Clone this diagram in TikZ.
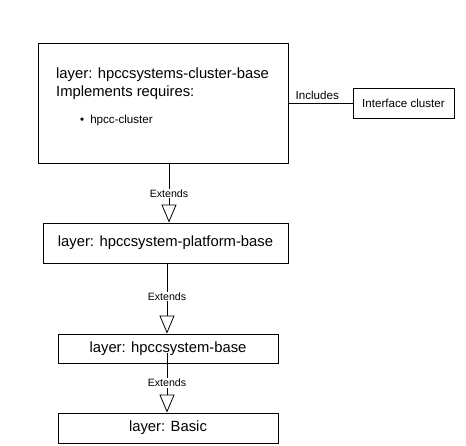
\documentclass[tikz,border=0pt]{standalone}
\usepackage{fontspec}
\setmainfont{Liberation Sans}
\usetikzlibrary{arrows.meta}
\begin{document}
\begin{tikzpicture}[x=1pt,y=-1pt,
  box/.style={draw=black,line width=0.8pt,fill=white,inner sep=0pt},
  big/.style={font=\fontsize{14.8}{17}\selectfont},
  mid/.style={font=\fontsize{11.6}{14}\selectfont},
  small/.style={font=\fontsize{10.6}{12}\selectfont},
  conn/.style={draw=black,line width=0.8pt},
  ext/.style={conn,-{Triangle[open,length=18pt,width=15pt,line width=0.8pt]}},
  lbl/.style={small,fill=white,inner sep=1pt}]
\useasboundingbox (0,0) rectangle (466,446);
\node[box,minimum width=250pt,minimum height=120pt] (b1) at (163,103) {};
\node[big,anchor=west,inner sep=0pt] (t1) at (56,75) {layer: hpccsystems-cluster-base};
\node[big,anchor=west,inner sep=0pt] (t2) at (56,93) {Implements requires:};
\node[mid,anchor=west,inner sep=0pt] (t3) at (80,121) {\textbullet\hspace{6pt}hpcc-cluster};
\node[box,mid,minimum width=101pt,minimum height=30pt] (ic) at (403.5,103) {Interface cluster};
\node[box,big,minimum width=245pt,minimum height=40pt] (b2) at (165.5,243) {layer: hpccsystem-platform-base};
\node[box,big,minimum width=220pt,minimum height=29pt] (b3) at (168,348.5) {layer: hpccsystem-base};
\node[box,big,minimum width=220pt,minimum height=30pt] (b4) at (168,428) {layer: Basic};
\draw[conn] (b1.east) -- node[pos=0.45,above,mid,inner sep=3pt] {Includes} (ic.west);
\draw[ext] ([xshift=6pt]b1.south) coordinate (s1) -- node[pos=0.51,lbl] {Extends} (s1 |- b2.north);
\draw[ext] ([xshift=1.5pt]b2.south) coordinate (s2) -- node[pos=0.47,lbl] {Extends} (s2 |- b3.north);
\draw[ext] ([xshift=-1pt,yshift=10pt]b3.south) coordinate (s3) -- node[pos=0.5,lbl] {Extends} (s3 |- b4.north);
\end{tikzpicture}
\end{document}
